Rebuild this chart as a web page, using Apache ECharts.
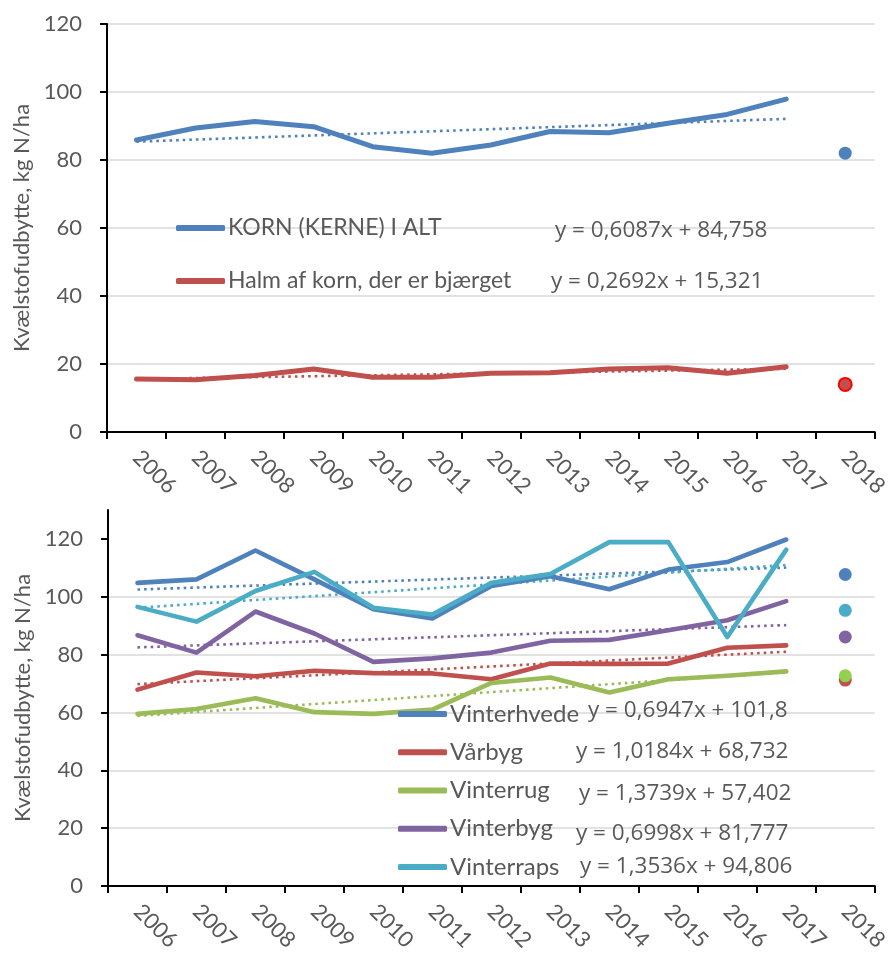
<!DOCTYPE html>
<html>
<head>
<meta charset="utf-8">
<script src="https://cdn.jsdelivr.net/npm/echarts@6/dist/echarts.min.js"></script>
<style>html,body{margin:0;padding:0;background:#fff}#c{width:891px;height:956px}</style>
</head>
<body>
<div id="c"></div>
<script>
var years = ['2006','2007','2008','2009','2010','2011','2012','2013','2014','2015','2016','2017','2018'];
var yTicks = [0,20,40,60,80,100,120];

// Top chart
var kornNames = ['KORN (KERNE) I ALT', 'Halm af korn, der er bjærget'];
var korn = [85.9, 89.4, 91.3, 89.8, 83.9, 82.0, 84.4, 88.4, 88.0, 90.8, 93.4, 97.9];
var halm = [15.6, 15.4, 16.6, 18.5, 16.1, 16.1, 17.3, 17.4, 18.5, 18.9, 17.3, 19.2];
var korn2018 = 82.0;
var halm2018 = 14.0;
var kornTrend = [85.4, 92.1];
var halmTrend = [15.6, 18.6];
var kornEq = ['y = 0,6087x + 84,758', 'y = 0,2692x + 15,321'];

// Bottom chart
var cropNames = ['Vinterhvede', 'Vårbyg', 'Vinterrug', 'Vinterbyg', 'Vinterraps'];
var vinterhvede = [104.8, 106.0, 116.0, 106.0, 95.7, 92.5, 103.7, 107.1, 102.6, 109.4, 112.0, 119.8];
var vaarbyg     = [67.9, 73.8, 72.5, 74.4, 73.6, 73.5, 71.5, 76.9, 76.8, 76.9, 82.4, 83.2];
var vinterrug   = [59.5, 61.2, 64.9, 60.1, 59.5, 61.0, 70.2, 72.1, 66.9, 71.5, 72.7, 74.2];
var vinterbyg   = [86.7, 80.7, 94.9, 87.3, 77.5, 78.7, 80.7, 84.8, 85.1, 88.4, 91.9, 98.5];
var vinterraps  = [96.5, 91.4, 102.0, 108.6, 96.2, 93.9, 104.8, 107.9, 118.9, 118.9, 86.1, 116.3];
var crops2018 = [107.7, 71.2, 72.7, 86.1, 95.3];
var cropTrends = [[102.5, 110.1], [69.8, 81.0], [58.8, 73.9], [82.5, 90.2], [96.2, 111.0]];
var cropEq = ['y = 0,6947x + 101,8', 'y = 1,0184x + 68,732', 'y = 1,3739x + 57,402', 'y = 0,6998x + 81,777', 'y = 1,3536x + 94,806'];

var FONT = 'Lato';
var EQFONT = '"Open Sans"';
var TXT = '#595959';
var FS = 22;
var EQFS = 22.5;
var topColors = ['#4F81BD', '#C0504D'];
var cropColors = ['#4F81BD', '#C0504D', '#9BBB59', '#8064A2', '#4BACC6'];
var crop2018Colors = ['#4F81BD', '#C0504D', '#92D050', '#8064A2', '#4BACC6'];

function xAxis(gi) {
  return {
    type: 'category', gridIndex: gi, data: years, boundaryGap: true,
    axisLine: {show: true, lineStyle: {color: '#000', width: 2}},
    axisTick: {show: true, length: 7, lineStyle: {color: '#000', width: 2}},
    axisLabel: {interval: 0, rotate: -45, margin: 22, color: TXT, fontSize: FS, fontFamily: FONT},
    splitLine: {show: false}
  };
}
function yAxis(gi, max) {
  return {
    type: 'value', gridIndex: gi, min: 0, max: max, interval: 20,
    name: 'Kvælstofudbytte, kg N/ha', nameLocation: 'middle', nameRotate: 90, nameGap: 72,
    nameTextStyle: {color: TXT, fontSize: FS, fontFamily: FONT},
    axisLine: {show: true, lineStyle: {color: '#000', width: 2}},
    axisTick: {show: true, length: 7, customValues: yTicks, lineStyle: {color: '#000', width: 2}},
    axisLabel: {margin: 25, color: TXT, fontSize: FS, fontFamily: FONT, customValues: yTicks},
    splitLine: {show: true, showMaxLine: max === 120, lineStyle: {color: '#d9d9d9', width: 1.5}}
  };
}
function line(name, xi, data, color, w) {
  return {name: name, type: 'line', xAxisIndex: xi, yAxisIndex: xi, data: data, symbol: 'none',
    lineStyle: {color: color, width: w, cap: 'round', join: 'round'}, itemStyle: {color: color}, z: 3, silent: true};
}
function trend(name, xi, ends, color) {
  return {name: name, type: 'line', xAxisIndex: xi, yAxisIndex: xi,
    data: [[years[0], ends[0]], [years[11], ends[1]]], symbol: 'none',
    lineStyle: {color: color, width: 2.6, type: [2.6, 4], cap: 'butt'}, z: 2, silent: true};
}
function point(name, xi, v, color, border) {
  return {name: name, type: 'scatter', xAxisIndex: xi, yAxisIndex: xi, data: [[years[12], v]],
    symbolSize: 13, itemStyle: {color: color, borderColor: border || color, borderWidth: border ? 2 : 0, opacity: 1}, z: 4, silent: true};
}

var series = [];
series.push(trend('t0', 0, kornTrend, topColors[0]));
series.push(trend('t1', 0, halmTrend, topColors[1]));
series.push(line(kornNames[0], 0, korn, topColors[0], 5));
series.push(line(kornNames[1], 0, halm, topColors[1], 5));
series.push(point('p0', 0, korn2018, topColors[0]));
series.push(point('p1', 0, halm2018, topColors[1], '#FF0000'));

var cropData = [vinterhvede, vaarbyg, vinterrug, vinterbyg, vinterraps];
for (var i = 0; i < 5; i++) series.push(trend('ct' + i, 1, cropTrends[i], cropColors[i]));
for (var i = 0; i < 5; i++) series.push(line(cropNames[i], 1, cropData[i], cropColors[i], 4.6));
var pOrder = [0, 4, 3, 1, 2];
for (var k = 0; k < 5; k++) { var j = pOrder[k]; series.push(point('cp' + j, 1, crops2018[j], crop2018Colors[j])); }

var graphics = [];
var topEqPos = [[555, 231], [551, 282]];
for (var i = 0; i < 2; i++) graphics.push({type: 'text', x: topEqPos[i][0], y: topEqPos[i][1], z: 10,
  style: {text: kornEq[i], fill: TXT, font: EQFS + 'px ' + EQFONT, verticalAlign: 'middle'}});
var botEqPos = [[588, 711], [576, 752], [579, 794], [576, 834], [580, 867]];
for (var i = 0; i < 5; i++) graphics.push({type: 'text', x: botEqPos[i][0], y: botEqPos[i][1], z: 10,
  style: {text: cropEq[i], fill: TXT, font: EQFS + 'px ' + EQFONT, verticalAlign: 'middle'}});

var chart = echarts.init(document.getElementById('c'));
chart.setOption({
  animation: false,
  backgroundColor: '#fff',
  textStyle: {fontFamily: FONT},
  grid: [
    {left: 107, top: 24, width: 773, height: 408},
    {left: 108, top: 510, width: 773, height: 376}
  ],
  xAxis: [xAxis(0), xAxis(1)],
  yAxis: [yAxis(0, 120), yAxis(1, 130)],
  legend: [
    {data: kornNames, orient: 'vertical', left: 176, top: 215, padding: 0, itemGap: 27, itemWidth: 49, itemHeight: 6,
      icon: 'roundRect', selectedMode: false,
      textStyle: {color: TXT, fontSize: 23, fontFamily: FONT, lineHeight: 26, padding: [0, 0, 0, -2]}},
    {data: cropNames, orient: 'vertical', left: 398, top: 701, padding: 0, itemGap: 12.25, itemWidth: 49, itemHeight: 6,
      icon: 'roundRect', selectedMode: false,
      textStyle: {color: TXT, fontSize: 24, fontFamily: FONT, lineHeight: 26, padding: [0, 0, 0, -2]}}
  ],
  graphic: graphics,
  series: series
});
</script>
</body>
</html>
